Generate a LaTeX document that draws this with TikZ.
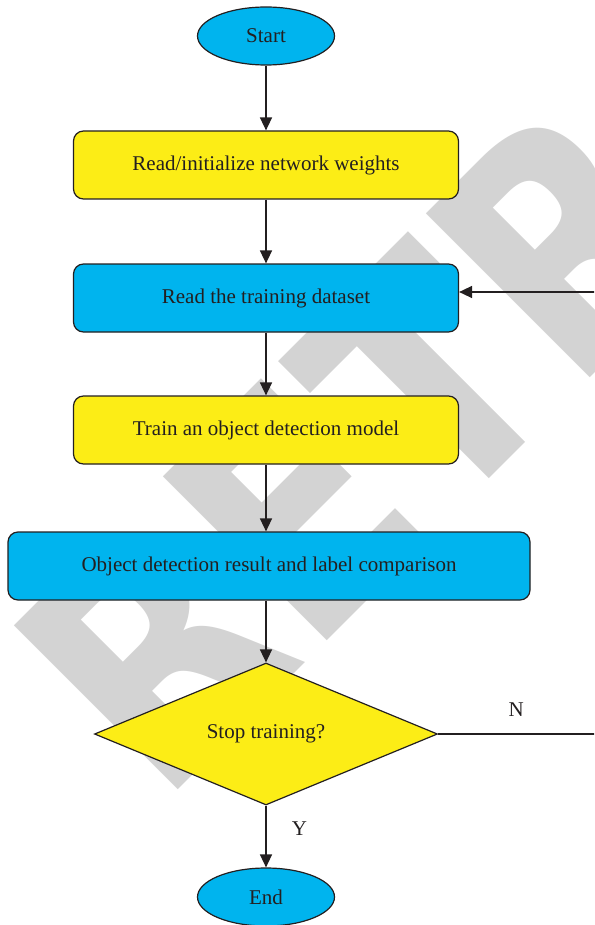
\documentclass[tikz,border=0pt]{standalone}
\usepackage{fontspec}
\setmainfont{Liberation Serif}
\newfontfamily\stampfont{DejaVu Sans}
\usetikzlibrary{shapes.geometric,arrows.meta}
\definecolor{boxblue}{RGB}{0,180,238}
\definecolor{boxyellow}{RGB}{252,237,22}
\definecolor{linegray}{RGB}{35,31,32}
\definecolor{stampgray}{RGB}{211,211,211}

\begin{document}
\begin{tikzpicture}[x=1pt, y=-1pt, >={Triangle[length=13pt,width=12pt]},
        every node/.style={font=\fontsize{21}{24}\selectfont, text=linegray},
        terminal/.style={ellipse, draw=linegray, line width=1.2pt, fill=boxblue, minimum width=137pt, minimum height=58pt, inner sep=0pt},
        process/.style={rectangle, rounded corners=10pt, draw=linegray, line width=1.2pt, minimum height=68pt, inner sep=0pt},
        decision/.style={diamond, aspect=2.4, draw=linegray, line width=1.2pt, fill=boxyellow, minimum width=343pt, minimum height=142pt, inner sep=0pt},
        flow/.style={->, draw=linegray, line width=1.5pt},
        tag/.style={inner sep=0pt}]
        % Page frame and watermark
        \useasboundingbox (0,0) rectangle (594,925);
        \clip (0,0) rectangle (594,925);
        \node[rotate=45, xscale=0.86, anchor=base west, inner sep=0pt, text=stampgray, font=\stampfont\bfseries\fontsize{318}{318}\selectfont] (stamp) at (160,808) {RETRACTED};

        % Define blocks
        \node[terminal] (start) at (266,36) {Start};
        \node[process, fill=boxyellow, minimum width=385pt] (init) at (266,165) {Read/initialize network weights};
        \node[process, fill=boxblue, minimum width=385pt] (read) at (266,298) {Read the training dataset};
        \node[process, fill=boxyellow, minimum width=385pt] (train) at (266,430) {Train an object detection model};
        \node[process, fill=boxblue, minimum width=522pt] (compare) at (269,566) {Object detection result and label comparison};
        \node[decision] (stop) at (266,734) {Stop training?};
        \node[terminal] (end) at (266,897) {End};
        \coordinate (loopB) at (620,734);
        \coordinate (loopT) at (620,292);

        % Draw edges
        \draw[flow] (start) -- (init);
        \draw[flow] (init) -- (read);
        \draw[flow] (read) -- (train);
        \draw[flow] (train) -- (train |- compare.north);
        \draw[flow] (stop.north |- compare.south) -- (stop);
        \draw[flow] (stop) -- node[tag, pos=0.37, right=25pt] (yes) {Y} (end);
        \draw[flow] (stop.east) -- node[tag, pos=0.43, above=17pt] (no) {N} (loopB) -- (loopT) -- (read.east |- loopT);
\end{tikzpicture}
\end{document}
